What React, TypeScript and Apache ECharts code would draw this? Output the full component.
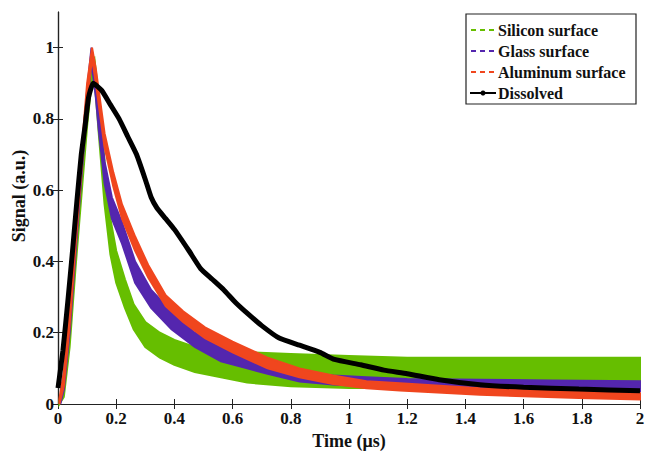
import React, { useEffect, useRef } from "react";
import * as echarts from "echarts";

// ---- Data ----
const xTicks = [0, 0.2, 0.4, 0.6, 0.8, 1, 1.2, 1.4, 1.6, 1.8, 2];
const yTicks = [0, 0.2, 0.4, 0.6, 0.8, 1];

// Silicon surface (green): time, lower and upper edge of the noisy trace
const siliconT = [0.005, 0.02, 0.04, 0.06, 0.08, 0.1, 0.115, 0.125, 0.14, 0.16, 0.18, 0.2, 0.23, 0.26, 0.3, 0.35, 0.4, 0.47, 0.56, 0.65, 0.8, 1.0, 1.2, 1.4, 1.6, 1.8, 2.0];
const siliconLo = [0, 0.02, 0.16, 0.38, 0.58, 0.78, 0.9, 0.92, 0.76, 0.56, 0.42, 0.34, 0.27, 0.21, 0.16, 0.13, 0.11, 0.09, 0.075, 0.06, 0.05, 0.045, 0.045, 0.045, 0.045, 0.045, 0.045];
const siliconHi = [0.01, 0.06, 0.24, 0.46, 0.67, 0.87, 0.96, 0.97, 0.86, 0.68, 0.52, 0.43, 0.35, 0.28, 0.23, 0.2, 0.18, 0.16, 0.15, 0.145, 0.14, 0.135, 0.13, 0.13, 0.13, 0.13, 0.13];

// Glass surface (purple)
const glassT = [0.008, 0.02, 0.04, 0.06, 0.08, 0.1, 0.115, 0.13, 0.14, 0.16, 0.185, 0.22, 0.265, 0.32, 0.39, 0.47, 0.56, 0.65, 0.72, 0.83, 0.945, 1.06, 1.2, 1.45, 1.7, 2.0];
const glassLo = [0, 0.04, 0.2, 0.42, 0.63, 0.83, 0.96, 0.86, 0.77, 0.62, 0.52, 0.45, 0.34, 0.27, 0.21, 0.16, 0.12, 0.1, 0.085, 0.063, 0.055, 0.05, 0.045, 0.04, 0.038, 0.036];
const glassHi = [0.01, 0.08, 0.26, 0.48, 0.69, 0.88, 1.0, 0.92, 0.83, 0.68, 0.58, 0.51, 0.4, 0.32, 0.26, 0.2, 0.16, 0.13, 0.115, 0.09, 0.08, 0.075, 0.07, 0.068, 0.066, 0.064];

// Aluminum surface (red)
const aluminumT = [0.005, 0.02, 0.04, 0.06, 0.08, 0.1, 0.117, 0.13, 0.16, 0.19, 0.22, 0.265, 0.31, 0.37, 0.43, 0.505, 0.6, 0.72, 0.83, 0.945, 1.06, 1.175, 1.45, 1.79, 2.0];
const aluminumLo = [0, 0.05, 0.22, 0.44, 0.65, 0.85, 0.97, 0.9, 0.72, 0.61, 0.52, 0.43, 0.355, 0.275, 0.23, 0.185, 0.145, 0.1, 0.075, 0.056, 0.044, 0.038, 0.026, 0.017, 0.013];
const aluminumHi = [0.015, 0.09, 0.27, 0.49, 0.7, 0.9, 1.0, 0.94, 0.76, 0.65, 0.56, 0.47, 0.39, 0.305, 0.26, 0.215, 0.175, 0.13, 0.1, 0.08, 0.064, 0.058, 0.044, 0.035, 0.03];

// Dissolved (black)
const dissolvedT = [0, 0.017, 0.034, 0.05, 0.065, 0.08, 0.093, 0.105, 0.121, 0.15, 0.18, 0.21, 0.24, 0.27, 0.3, 0.32, 0.34, 0.37, 0.4, 0.45, 0.49, 0.53, 0.57, 0.61, 0.65, 0.7, 0.76, 0.83, 0.9, 0.95, 1.04, 1.12, 1.2, 1.31, 1.45, 1.6, 1.79, 2.0];
const dissolvedV = [0.045, 0.15, 0.29, 0.43, 0.57, 0.7, 0.78, 0.86, 0.9, 0.88, 0.84, 0.8, 0.75, 0.7, 0.63, 0.58, 0.55, 0.52, 0.49, 0.43, 0.38, 0.35, 0.32, 0.285, 0.255, 0.22, 0.185, 0.165, 0.145, 0.125, 0.11, 0.095, 0.085, 0.068, 0.054, 0.047, 0.042, 0.037];

const seriesNames = ["Silicon surface", "Glass surface", "Aluminum surface", "Dissolved"];
const colors = ["#66be00", "#5426ae", "#f0461e", "#000000"];
const xTitle = "Time (μs)";
const yTitle = "Signal (a.u.)";

const FONT = "Liberation Serif, Times New Roman, serif";

function fmt(v: number) {
  if (v > 1.05 && v < 1.15) return "";
  return String(Math.round(v * 10) / 10);
}

function band(name: string, t: number[], lo: number[], hi: number[], color: string) {
  const data = t.map((x, i) => [x, lo[i], hi[i]]);
  return {
    type: "custom",
    name,
    coordinateSystem: "cartesian2d",
    xAxisIndex: 0,
    yAxisIndex: 0,
    silent: true,
    data,
    encode: { x: 0, y: [1, 2] },
    renderItem: (params: any, api: any) => {
      if (params.dataIndex !== 0) return null;
      const up = data.map((d) => api.coord([d[0], d[2]]));
      const dn = data.map((d) => api.coord([d[0], d[1]])).reverse();
      return {
        type: "polygon",
        shape: { points: up.concat(dn) },
        style: { fill: color, stroke: color, lineWidth: 2 },
      };
    },
  };
}

export default function App() {
  const ref = useRef<HTMLDivElement>(null);
  useEffect(() => {
    if (!ref.current) return;
    const chart = echarts.init(ref.current, null, { renderer: "svg" });
    const labelStyle = { fontFamily: FONT, fontWeight: "bold", fontSize: 17, color: "#111" };
    const graphics: any[] = [
      {
        type: "text",
        x: 19,
        y: 196,
        rotation: Math.PI / 2,
        style: { text: yTitle, font: `bold 18px ${FONT}`, fill: "#111", align: "center", verticalAlign: "middle" },
      },
      {
        type: "rect",
        shape: { x: 466, y: 14, width: 170, height: 90 },
        style: { fill: "#fff", stroke: "#222", lineWidth: 1.2 },
        z: 100,
      },
    ];
    seriesNames.forEach((n, i) => {
      const y = 30 + i * 21;
      if (i < 3) {
        graphics.push({
          type: "line",
          z: 101,
          shape: { x1: 471, y1: y, x2: 497, y2: y },
          style: { stroke: colors[i], lineWidth: 2, lineDash: [5, 4] },
        });
      } else {
        graphics.push({
          type: "line",
          z: 101,
          shape: { x1: 470, y1: y, x2: 496, y2: y },
          style: { stroke: "#000", lineWidth: 2 },
        });
        graphics.push({
          type: "circle",
          z: 102,
          shape: { cx: 483, cy: y, r: 2.5 },
          style: { fill: "#000" },
        });
      }
      graphics.push({
        type: "text",
        z: 101,
        x: 498,
        y,
        style: { text: n, font: `bold 16px ${FONT}`, fill: "#111", verticalAlign: "middle", align: "left" },
      });
    });
    const option: any = {
      animation: false,
      backgroundColor: "#fff",
      grid: { left: 58, right: 5, top: 12, bottom: 47, containLabel: false, outerBoundsMode: "none" },
      xAxis: [
        {
          type: "value",
          min: 0,
          max: 2,
          interval: 0.2,
          position: "bottom",
          name: xTitle,
          nameLocation: "middle",
          nameGap: 27,
          nameTextStyle: { fontFamily: FONT, fontWeight: "bold", fontSize: 18, color: "#111" },
          axisLine: { show: true, lineStyle: { color: "#222", width: 1.2 } },
          axisTick: { show: true, inside: true, length: 5, lineStyle: { color: "#222" } },
          axisLabel: { ...labelStyle, margin: 6, formatter: fmt, customValues: xTicks },
          splitLine: { show: false },
        },
        {
          type: "value",
          min: 0,
          max: 2,
          interval: 0.2,
          position: "top",
          axisLine: { show: true, lineStyle: { color: "#222", width: 1.2 } },
          axisTick: { show: true, inside: true, length: 5, lineStyle: { color: "#222" } },
          axisLabel: { show: false },
          splitLine: { show: false },
        },
      ],
      yAxis: [
        {
          type: "value",
          min: 0,
          max: 1.1,
          interval: 0.2,
          position: "left",
          axisLine: { show: true, lineStyle: { color: "#222", width: 1.2 } },
          axisTick: { show: true, inside: true, length: 5, lineStyle: { color: "#222" }, customValues: yTicks },
          axisLabel: { ...labelStyle, margin: 4, formatter: fmt, customValues: yTicks },
          splitLine: { show: false },
        },
        {
          type: "value",
          min: 0,
          max: 1.1,
          interval: 0.2,
          position: "right",
          axisLine: { show: true, lineStyle: { color: "#222", width: 1.2 } },
          axisTick: { show: true, inside: true, length: 5, lineStyle: { color: "#222" }, customValues: yTicks },
          axisLabel: { show: false },
          splitLine: { show: false },
        },
      ],
      series: [
        band(seriesNames[0], siliconT, siliconLo, siliconHi, colors[0]),
        band(seriesNames[1], glassT, glassLo, glassHi, colors[1]),
        band(seriesNames[2], aluminumT, aluminumLo, aluminumHi, colors[2]),
        {
          type: "line",
          name: seriesNames[3],
          data: dissolvedT.map((x, i) => [x, dissolvedV[i]]),
          symbol: "none",
          smooth: 0.15,
          lineStyle: { color: colors[3], width: 5 },
          silent: true,
          z: 5,
        },
      ],
      graphic: graphics,
    };
    chart.setOption(option);
    return () => chart.dispose();
  }, []);
  return (
    <div
      ref={ref}
      style={{ position: "absolute", left: 0, top: 0, width: 645, height: 451, background: "#fff" }}
    />
  );
}
